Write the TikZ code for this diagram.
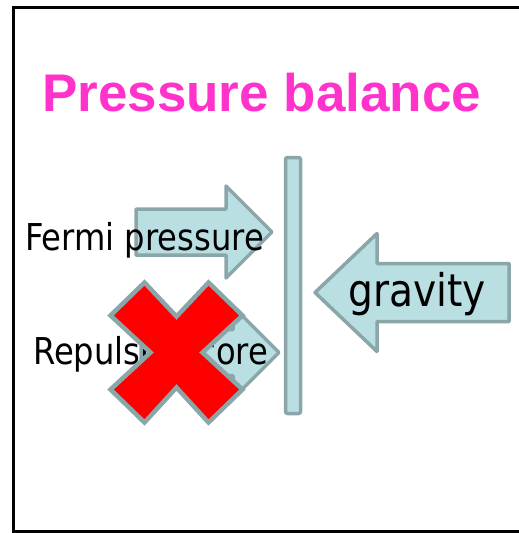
\documentclass[tikz,border=0pt]{standalone}
\usepackage{fontspec}
\newfontfamily\labelfont{DejaVu Sans}[FakeStretch=0.87]
\newfontfamily\titlefont{Liberation Sans}
\usepackage{tikz}
\usetikzlibrary{calc}
\definecolor{wallblue}{RGB}{185,223,227}
\definecolor{edgegray}{RGB}{139,166,168}
\definecolor{titlepink}{RGB}{255,51,204}
\definecolor{crossred}{RGB}{255,0,0}

\begin{document}
\begin{tikzpicture}[x=1pt, y=-1pt,
        shapebox/.style={draw=edgegray, fill=wallblue, line width=3.5pt, line join=round},
        crossbox/.style={draw=edgegray, fill=crossred, line width=4.5pt, line join=miter},
        label/.style={inner sep=0pt, anchor=base west, text=black,
                      font=\labelfont\fontsize{37}{40}\selectfont}
    ]
        \useasboundingbox (0,0) rectangle (519,533);
        \draw [line width=3.5pt] (13.5,7.5) rectangle (540,531.5);
        \node [inner sep=0pt, anchor=base west, text=titlepink,
               font=\titlefont\bfseries\fontsize{53}{60}\selectfont] (title) at (42,111) {Pressure balance};
        % upper arrow
        \coordinate (fermitip) at (272,232);
        \draw [shapebox] (136,209) -- (226,209) -- (226,186) -- (fermitip)
              -- (226,278) -- (226,255) -- (136,255) -- cycle;
        \node [label] (fermi) at (25,250) {Fermi pressure};
        % lower arrow, crossed out
        \coordinate (coretip) at (279,352.5);
        \draw [shapebox] (141,329.5) -- (233,329.5) -- (233,306.5) -- (coretip)
              -- (233,398.5) -- (233,375.5) -- (141,375.5) -- cycle;
        \node [label] (core) at (33,364) {Repulsive core};
        \coordinate (cross) at (176.5,352.5);
        \draw [crossbox] ($(cross)+(0,-36)$) -- ++(32,-34) -- ++(34,33) -- ++(-40,37)
              -- ++(40,37) -- ++(-34,33) -- ++(-32,-35) -- ++(-32,35) -- ++(-34,-33)
              -- ++(40,-37) -- ++(-40,-37) -- ++(34,-33) -- cycle;
        % wall
        \node [shapebox, rectangle, rounded corners=2pt, inner sep=0pt,
               minimum width=15pt, minimum height=256pt] (wall) at (293,285.5) {};
        % gravity arrow
        \coordinate (gravtip) at (315,292.5);
        \draw [shapebox] (509,263.5) -- (377,263.5) -- (377,233.5) -- (gravtip)
              -- (377,351.5) -- (377,321.5) -- (509,321.5) -- cycle;
        \node [label, font=\labelfont\fontsize{45}{48}\selectfont] (gravity) at (348,306) {gravity};
    \end{tikzpicture}
\end{document}
